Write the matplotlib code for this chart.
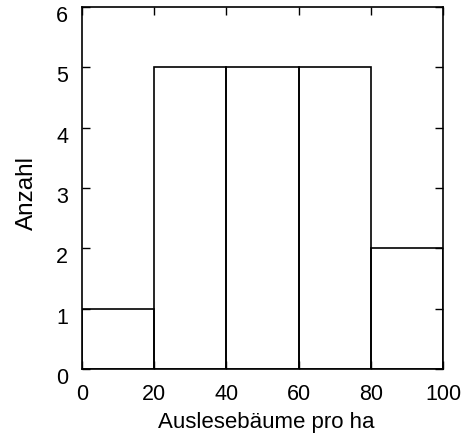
import matplotlib.pyplot as plt
import matplotlib.transforms as mtransforms

plt.rcParams['font.family'] = ['Liberation Sans', 'DejaVu Sans']

# Klassen (Auslesebäume pro ha) und Häufigkeiten
bin_edges = [0, 20, 40, 60, 80, 100]
counts = [1, 5, 5, 5, 2]

fig = plt.figure(figsize=(4.7, 4.37), dpi=100)
ax = fig.add_axes([0.1745, 0.1556, 0.768, 0.8284])

for left, right, h in zip(bin_edges[:-1], bin_edges[1:], counts):
    ax.bar(left, h, width=right - left, align='edge',
           facecolor='none', edgecolor='black', linewidth=1.2)

ax.set_xlim(0, 100)
ax.set_ylim(0, 6)
ax.set_xticks(range(0, 101, 20))
ax.set_yticks(range(0, 7))
ax.tick_params(direction='in', top=True, right=True, length=6, width=1,
               labelsize=15.5)
ax.tick_params(axis='x', pad=11)
ax.tick_params(axis='y', pad=10)
for s in ax.spines.values():
    s.set_linewidth(1.2)

# y-Beschriftungen leicht nach unten versetzt
shift = mtransforms.ScaledTranslation(0, -5 / 72, fig.dpi_scale_trans)
for lab in ax.get_yticklabels():
    lab.set_transform(lab.get_transform() + shift)

ax.set_xlabel('Auslesebäume pro ha', fontsize=16)
ax.xaxis.set_label_coords(0.51, -0.118)
ax.set_ylabel('Anzahl', fontsize=17.5)
ax.yaxis.set_label_coords(-0.122, 0.486)

fig.savefig('out.png', dpi=100)
